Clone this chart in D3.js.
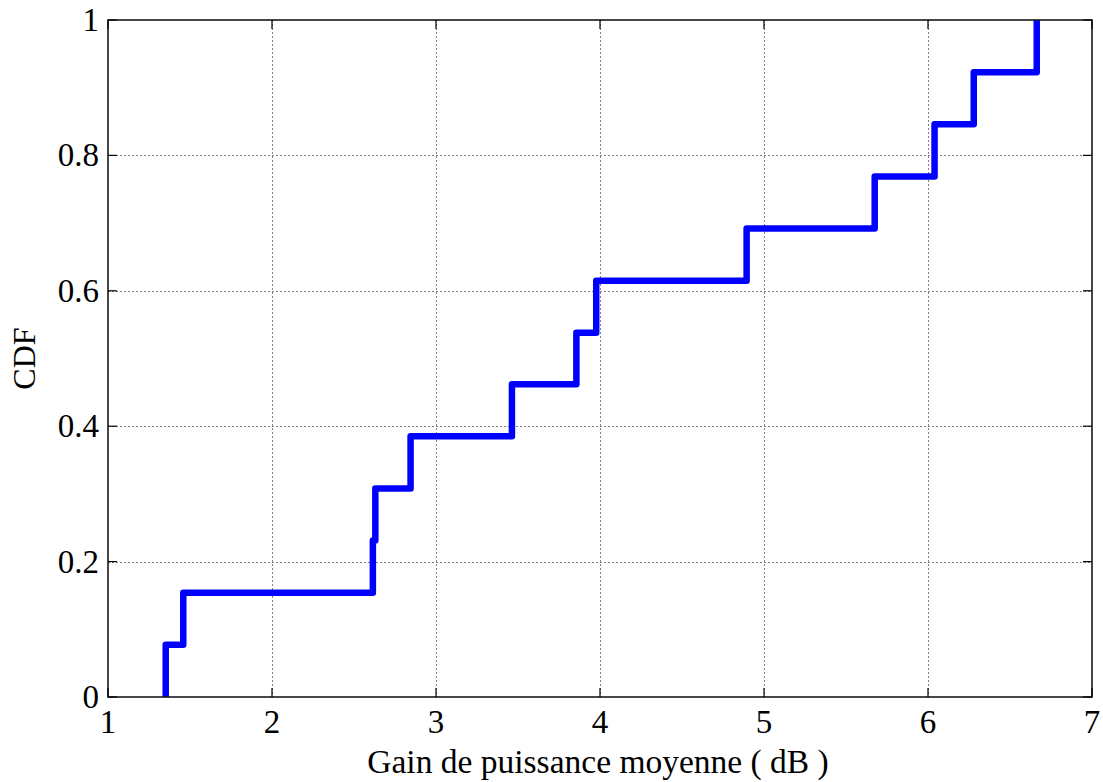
<!DOCTYPE html>
<html>
<head>
<meta charset="utf-8">
<script src="https://cdn.jsdelivr.net/npm/d3@7"></script>
<style>
    body { margin: 0; background: #fff; }
    svg { display: block; }
    .tick-label, .axis-title { font-family: "Liberation Serif", "Times New Roman", serif; fill: #000; }
</style>
</head>
<body>
<svg id="chart" width="1103" height="782"></svg>
<script>
var gainDb = [1.352, 1.459, 2.615, 2.630, 2.845, 3.463, 3.856, 3.977, 4.894, 5.675, 6.040, 6.279, 6.663];
var cdfValues = [0.077, 0.154, 0.231, 0.308, 0.385, 0.462, 0.538, 0.615, 0.692, 0.769, 0.846, 0.923, 1.0];
var xTicks = [1, 2, 3, 4, 5, 6, 7];
var yTicks = [0, 0.2, 0.4, 0.6, 0.8, 1];
var yTickLabels = ["0", "0.2", "0.4", "0.6", "0.8", "1"];

var svg = d3.select("#chart"),
    margin = { top: 20, left: 108, bottom: 85, right: 11 },
    width = +svg.attr("width"),
    height = +svg.attr("height");

var x = d3.scaleLinear().domain([1, 7]).range([margin.left, width - margin.right]);
var y = d3.scaleLinear().domain([0, 1]).range([height - margin.bottom, margin.top]);

var x0 = x.range()[0], x1 = x.range()[1], y0 = y.range()[0], y1 = y.range()[1];

// grid lines (dotted)
var grid = svg.append("g").attr("class", "grid")
    .attr("stroke", "#808080")
    .attr("stroke-width", 1)
    .attr("stroke-dasharray", "2,2");

grid.selectAll("line.vx")
    .data(xTicks.slice(1, -1))
    .enter().append("line")
    .attr("class", "vx")
    .attr("x1", d => Math.round(x(d)) + 0.5).attr("x2", d => Math.round(x(d)) + 0.5)
    .attr("y1", y1).attr("y2", y0);

grid.selectAll("line.hy")
    .data(yTicks.slice(1, -1))
    .enter().append("line")
    .attr("class", "hy")
    .attr("y1", d => Math.round(y(d)) + 0.5).attr("y2", d => Math.round(y(d)) + 0.5)
    .attr("x1", x0).attr("x2", x1);

// the CDF step line
var points = [[gainDb[0], 0]].concat(gainDb.map((g, i) => [g, cdfValues[i]]));

var line = d3.line()
    .x(d => x(d[0]))
    .y(d => y(d[1]))
    .curve(d3.curveStepAfter);

svg.append("path")
    .datum(points)
    .attr("d", line)
    .attr("fill", "none")
    .attr("stroke", "#0000ff")
    .attr("stroke-width", 6.5)
    .attr("stroke-linejoin", "round");

// axes box
svg.append("rect")
    .attr("x", x0).attr("y", y1)
    .attr("width", x1 - x0).attr("height", y0 - y1)
    .attr("fill", "none")
    .attr("stroke", "#1a1a1a")
    .attr("stroke-width", 1.6);

// inside ticks on all four sides
var tickLen = 9;
var ticks = svg.append("g").attr("stroke", "#000").attr("stroke-width", 1.2);

xTicks.forEach(function (t) {
    ticks.append("line").attr("x1", x(t)).attr("x2", x(t)).attr("y1", y0).attr("y2", y0 - tickLen);
    ticks.append("line").attr("x1", x(t)).attr("x2", x(t)).attr("y1", y1).attr("y2", y1 + tickLen);
});
yTicks.forEach(function (t) {
    ticks.append("line").attr("y1", y(t)).attr("y2", y(t)).attr("x1", x0).attr("x2", x0 + tickLen);
    ticks.append("line").attr("y1", y(t)).attr("y2", y(t)).attr("x1", x1).attr("x2", x1 - tickLen);
});

// tick labels
svg.selectAll("text.xtick")
    .data(xTicks)
    .enter().append("text")
    .attr("class", "tick-label xtick")
    .attr("x", d => x(d))
    .attr("y", y0 + 36)
    .attr("text-anchor", "middle")
    .attr("font-size", 33)
    .text(d => d);

svg.selectAll("text.ytick")
    .data(yTicks)
    .enter().append("text")
    .attr("class", "tick-label ytick")
    .attr("x", x0 - 9)
    .attr("y", d => y(d) + 11)
    .attr("text-anchor", "end")
    .attr("font-size", 33)
    .text((d, i) => yTickLabels[i]);

// axis titles
svg.append("text")
    .attr("class", "axis-title")
    .attr("x", (x0 + x1) / 2 - 2)
    .attr("y", y0 + 76)
    .attr("text-anchor", "middle")
    .attr("font-size", 33.5)
    .text("Gain de puissance moyenne ( dB )");

svg.append("text")
    .attr("class", "axis-title")
    .attr("transform", "translate(35," + ((y0 + y1) / 2) + ") rotate(-90)")
    .attr("text-anchor", "middle")
    .attr("font-size", 32)
    .text("CDF");
</script>
</body>
</html>
